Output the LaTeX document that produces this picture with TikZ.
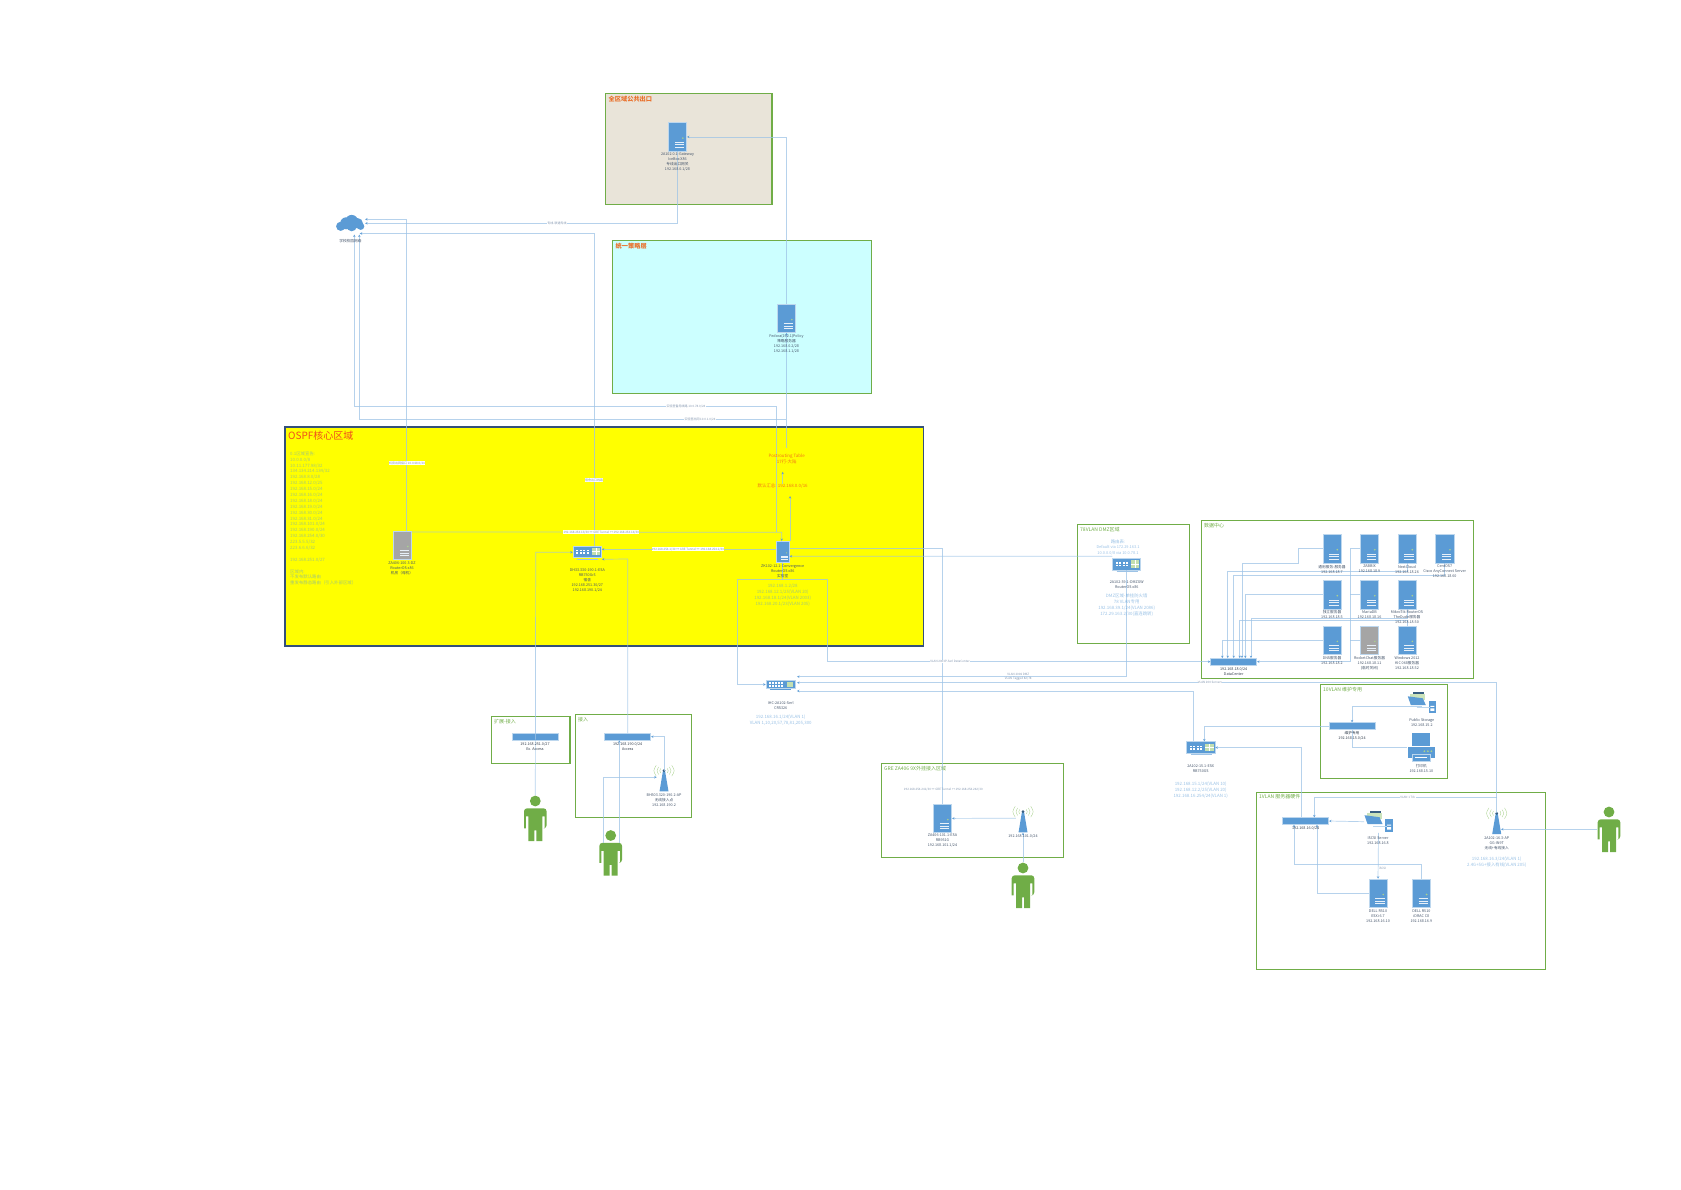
\documentclass[tikz,border=0pt]{standalone}
\usepackage{fontspec}
\setmainfont{Noto Sans CJK SC}
\usetikzlibrary{arrows.meta}
\definecolor{blu}{HTML}{5B9BD5}
\definecolor{pale}{HTML}{BDD7EE}
\definecolor{lkc}{HTML}{9DC3E6}
\definecolor{grn}{HTML}{70AD47}
\definecolor{lbc}{HTML}{44546A}
\definecolor{elc}{HTML}{8497B0}
\definecolor{ttl}{HTML}{E9702A}
\definecolor{ospfbg}{HTML}{FFFF00}
\definecolor{ospfln}{HTML}{34507A}
\definecolor{gwbg}{HTML}{E9E4D9}
\definecolor{polbg}{HTML}{CCFFFF}
\definecolor{wavec}{HTML}{A9D18E}
\definecolor{srvgr}{HTML}{A5A5A5}
\tikzstyle{srv}=[rectangle,fill=blu,draw=pale,line width=.5pt,minimum width=18.4pt,minimum height=28.6pt,inner sep=0pt]
\tikzstyle{srvg}=[srv,fill=srvgr]
\tikzstyle{srvs}=[srv,minimum width=13.3pt,minimum height=21.4pt]
\tikzstyle{rtr}=[rectangle,fill=blu,draw=pale,line width=.5pt,minimum width=28.4pt,minimum height=11.6pt,inner sep=0pt]
\tikzstyle{crsw}=[rtr,minimum width=29pt,minimum height=7.6pt]
\tikzstyle{flat}=[rectangle,fill=blu,draw=pale,line width=.5pt,minimum width=46pt,minimum height=6.6pt,inner sep=0pt]
\tikzstyle{icon}=[rectangle,inner sep=0pt,minimum width=28.4pt,minimum height=22pt]
\tikzstyle{antn}=[rectangle,inner sep=0pt,minimum width=14pt,minimum height=28.4pt]
\tikzstyle{man}=[rectangle,inner sep=0pt,minimum width=23pt,minimum height=45.4pt]
\tikzstyle{zone}=[draw=grn,line width=1.1pt]
\tikzstyle{lk}=[draw=lkc,draw opacity=.75,line width=.7pt,>={Stealth[length=2.6pt,width=2.6pt,color=blu]}]
\tikzstyle{lab}=[inner sep=0pt,anchor=north,align=center,text=lbc,font=\fontsize{3.7}{5}\selectfont]
\tikzstyle{bluetxt}=[inner sep=0pt,anchor=north,align=center,text=blu,text opacity=.62,font=\fontsize{4.4}{6}\selectfont]
\tikzstyle{edge}=[inner sep=.4pt,fill=white,text=elc,font=\fontsize{3}{3.6}\selectfont]
\tikzstyle{ztitle}=[inner sep=0pt,anchor=west,text=grn,font=\fontsize{5}{6}\selectfont]
\tikzstyle{otitle}=[inner sep=0pt,anchor=west,text=ttl,font=\fontsize{6.2}{7}\selectfont\bfseries]
\begin{document}
\begin{tikzpicture}[x=1pt,y=-1pt]
\useasboundingbox (0,0) rectangle (1681,1189);
\draw[zone,fill=gwbg] (605.7,93.3) rectangle (772,204.7);
\draw[zone,fill=polbg] (612.9,240.7) rectangle (871.8,393.3);
\draw[fill=ospfbg,draw=ospfln,line width=1.4pt] (285,427) rectangle (923.5,646);
\draw[zone] (1077.3,524.7) rectangle (1189.3,643.3);
\draw[zone] (1201.7,520.7) rectangle (1473.3,678.3);
\draw[zone] (1320.7,684.3) rectangle (1447.3,778.3);
\draw[zone] (1256.7,792.7) rectangle (1545.3,969.3);
\draw[zone] (881.3,763.3) rectangle (1063.3,857.3);
\draw[zone] (491.3,716.7) rectangle (570,763.3);
\draw[zone] (575.7,714.3) rectangle (691.3,817.3);

\node[srv] (gw) at (677.5,136.9) {};
\node[srv] (pol) at (786.5,318.4) {};
\node[srvg] (zad) at (402.5,545.2) {};
\node[srvs] (core) at (782.7,552) {};
\node[srv] (tong) at (1332,548.5) {};
\node[srv] (zab) at (1369.5,548.5) {};
\node[srv] (next) at (1407,548.5) {};
\node[srv] (cent) at (1444.7,548.5) {};
\node[srv] (indep) at (1332,594.5) {};
\node[srv] (maria) at (1369.5,594.5) {};
\node[srv] (mikro) at (1407,594.5) {};
\node[srv] (dns) at (1332,640.2) {};
\node[srvg] (rock) at (1369.5,640.2) {};
\node[srv] (win) at (1407,640.2) {};
\node[srv] (gre) at (942.5,818.4) {};
\node[srv] (dela) at (1378,893.3) {};
\node[srv] (delb) at (1421.3,893.3) {};
\node[rtr] (cen) at (587.3,551.6) {};
\node[rtr] (dmz) at (1126.5,564.2) {};
\node[rtr] (esx) at (1200.8,747.5) {};
\node[crsw] (crs) at (780.5,684.5) {};
\node[flat] (ext) at (535.3,736.7) {};
\node[flat] (acc) at (627.7,736.7) {};
\node[flat] (dc) at (1233.7,661.7) {};
\node[flat] (srvsw) at (1305.7,821) {};
\node[flat] (mnt) at (1352,726) {};
\node[icon] (sto) at (1421.8,702.8) {};
\node[icon] (isc) at (1378.5,821.7) {};
\node[icon] (prn) at (1421.3,747.2) {};
\node[icon] (cloud) at (350.7,223.3) {};
\node[antn] (apb) at (664,777.2) {};
\node[antn] (apc) at (1023,818.2) {};
\node[antn] (apr) at (1496.7,819.8) {};
\node[man] (pa) at (535.3,818.3) {};
\node[man] (pb) at (610.7,852.8) {};
\node[man] (pc) at (1023,885.3) {};
\node[man] (pd) at (1609,829.3) {};

\foreach \n in {gw,pol,zad,tong,zab,next,cent,indep,maria,mikro,dns,rock,win,gre,dela,delb}{
\begin{scope}[shift={(\n.center)}]
\fill[wavec] (5.3,1.2) circle (.9);
\draw[white!85!blu,line width=.6pt] (-2.7,5.3)--(6.7,5.3) (-2.7,7.8)--(6.7,7.8) (-2.7,10.3)--(6.7,10.3);
\end{scope}
}
\begin{scope}[shift={(core.center)},scale=.72]
\fill[wavec] (5.3,1.2) circle (.9);
\draw[white!85!blu,line width=.6pt] (-2.7,5.3)--(6.7,5.3) (-2.7,7.8)--(6.7,7.8) (-2.7,10.3)--(6.7,10.3);
\end{scope}
\foreach \n in {cen,dmz,esx}{
\begin{scope}[shift={(\n.center)}]
\foreach \x in {-11,-7.5,-4,-.5}{\fill[white] (\x,-2) rectangle ++(2,1.5);\fill[white] (\x,.6) rectangle ++(2,1.5);}
\fill[wavec!70!white] (4.3,-4) rectangle (12.7,3.5);
\draw[white,line width=.4pt] (8.5,-4)--(8.5,3.5) (4.3,-.2)--(12.7,-.2);
\draw[lkc,line width=1pt] (-10,7.4)--(11,7.4);
\end{scope}
}
\begin{scope}[shift={(crs.center)}]
\foreach \x in {-12,-9,-6,-3,0}{\fill[white] (\x,-2.4) rectangle ++(2,1.6);\fill[white] (\x,.6) rectangle ++(2,1.6);}
\fill[wavec!70!white] (6,-2.8) rectangle (12,2.8);
\draw[blu,line width=.6pt] (-11,5.2)--(10,5.2);
\end{scope}
\foreach \n in {sto,isc}{
\begin{scope}[shift={(\n.center)}]
\fill[blu!60!black] (-9,-11) rectangle (2,-8.5);
\fill[wavec!60!white] (-12,-9) rectangle (3,-3);
\fill[blu] (-14,-6.5)--(1,-4.5)--(4,2.3)--(-11,2.3)--cycle;
\fill[blu] (6.7,-2.3) rectangle (14.2,10.4);
\fill[white] (8.5,3) rectangle (12.5,4) (8.5,5.5) rectangle (12.5,8);
\draw[pale,line width=.5pt] (-5.3,4.2)--(8,4.2);
\end{scope}
}
\begin{scope}[shift={(prn.center)}]
\fill[blu] (-9,-14.5) rectangle (9,-1);
\fill[blu] (-13.7,-.3) rectangle (13.7,10.3);
\foreach \x in {3,6.5,10}{\fill[wavec] (\x,4) circle (1);}
\draw[fill=blu,draw=pale,line width=.6pt] (-9.3,7) rectangle (9.3,14.5);
\draw[white,line width=.5pt] (-6,10.5)--(6,10.5);
\end{scope}
\begin{scope}[shift={(cloud.center)}]
\fill[blu] (-10,3) circle (4.6) (-4.5,0) circle (6) (1,-2) circle (6.4) (7,0) circle (5.2) (10,3) circle (3.6) (1,3) circle (5);
\end{scope}
\foreach \n in {apb,apc,apr}{
\begin{scope}[shift={(\n.center)}]
\foreach \r in {4,6.5,9.5}{
\draw[wavec,line width=.35pt] ({\r*.82},{-6.5-\r*.57}) .. controls ({\r*1.15},-6.5) .. ({\r*.82},{-6.5+\r*.57});
\draw[wavec,line width=.35pt] ({-\r*.82},{-6.5-\r*.57}) .. controls ({-\r*1.15},-6.5) .. ({-\r*.82},{-6.5+\r*.57});
}
\fill[blu] (-1,-6.5)--(1,-6.5)--(4.5,14.2)--(-4.5,14.2)--cycle;
\fill[blu!60!black] (0,-6.5) circle (1.5);
\end{scope}
}
\foreach \n in {pa,pb,pc,pd}{
\begin{scope}[shift={(\n.center)}]
\fill[grn] (0,-17.3) circle (5.4);
\fill[grn,rounded corners=3pt] (-11.3,10)--(-11.3,-10)--(11.3,-10)--(11.3,10)[sharp corners]--(9.4,10)--(9.4,-2)--(7,-2)--(7,22.7)--(1,22.7)--(1,12)--(-1,12)--(-1,22.7)--(-7,22.7)--(-7,-2)--(-9.4,-2)--(-9.4,10)--cycle;
\end{scope}
}

\draw[lk,->] (gw.south) |- (cloud.east);
\draw[lk,<-] ([yshift=4pt]cloud.east) -| ([xshift=4.2pt]zad.north);
\draw[lk,<-] ([xshift=-5.4pt,yshift=1pt]cloud.south east) -| ([xshift=6.7pt]cen.north);
\draw[lk,<-] ([xshift=3.6pt]cloud.south) -- (354.3,406.7) -- (776.4,406.7) -- (776.4,532.3);
\draw[lk,<-] ([xshift=8.6pt]cloud.south) -- (359.3,419.3) -- (786.4,419.3);
\draw[lk,<-] (gw.east) -- (786.5,136.9) -- (pol.north);
\draw[lk,<-] (pol.south) -- (786.5,447.7);
\draw[lk,<-] (782.7,471.7) -- (782.7,484);
\draw[lk,<-] (790,496) -- ([xshift=7.3pt]core.north);
\draw[lk,->] ([yshift=-1.3pt]zad.north east) -- (781.7,532.3) -- ([xshift=-1pt]core.north);
\draw[lk,<-] ([yshift=2.3pt]cen.east) -- ([yshift=2.7pt]core.west);
\draw[lk,->] (pa.north) -- (535.7,552.3) -- ([yshift=-.7pt]cen.west);
\draw[lk,<-] ([xshift=.1pt,yshift=-1.6pt]cen.south east) -- (627.7,559) -- (acc.north);
\draw[lk,->] ([yshift=6.5pt]apb.center) |- (acc.east);
\draw[lk,->] ([xshift=-7.4pt,yshift=-13pt]pb.north) -- (603.3,777.2) -- (apb.west);
\draw[lk,->] ([xshift=8.6pt,yshift=-13pt]pb.north) -- ([xshift=-8.4pt]acc.south);
\draw[lk,->] (core.south) -- (782.7,579.3) -- (737.3,579.3) |- (crs.west);
\draw[lk,->] (core.south) -- (782.7,579.3) -- (827.3,579.3) -- (827.3,661.7) -- (dc.west);
\draw[lk] ([yshift=3.7pt]core.east) -| (gre.north);
\draw[lk,<-] ([yshift=-4.3pt]core.east) -- (1112,556.3) -- ([yshift=2pt]dmz.north west);
\draw[lk,->] (apc.west) -- (gre.east);
\draw[lk,->] (pc.north) -- (apc.south);
\draw[lk,->] (dmz.south) -- (1126.5,676.7) -- ([xshift=1.7pt,yshift=7.8pt]crs.east);
\draw[lk,->] ([yshift=6.5pt]apr.center) -- (1496.7,682.7) -- ([xshift=1.7pt,yshift=1.8pt]crs.east);
\draw[lk,->] (1496.7,797.3) -- (1314.3,797.3) -- ([xshift=8.6pt]srvsw.north);
\draw[lk,->] ([xshift=-7.5pt]esx.north) -- (1193.3,691) -- ([xshift=1.7pt,yshift=-6.5pt]crs.east);
\draw[lk,<-] (esx.east) -- (1301.7,747.5) -- ([xshift=-4pt]srvsw.north);
\draw[lk,->] (mnt.west) -| ([xshift=3.5pt]esx.north);
\draw[lk,<-] (mnt.north) |- ([yshift=-3.9pt]sto.center);
\draw[lk] (mnt.south) |- (prn.west);
\draw[lk,->] (isc.west) -- (srvsw.east);
\draw[lk,->] (isc.south) -- (dela.north);
\draw[lk,<-] ([xshift=-11.7pt]srvsw.south) |- (1421.3,864.3) -- (delb.north);
\draw[lk,<-] ([xshift=11.3pt]srvsw.south) |- (dela.west);
\draw[lk,->] (pd.west |- 0,829.3) -- ([xshift=-3pt,yshift=-9.5pt]apr.east);
\draw[lk,->] (dns.west) -| ([xshift=-11.4pt]dc.north);
\draw[lk,->] (next.south) |- (1227.7,571) -- ([xshift=-6pt]dc.north);
\draw[lk,->] (cent.south) |- (1233.7,575.3) -- (dc.north);
\draw[lk,->] (win.north) |- (1239.7,620.7) -- ([xshift=6pt]dc.north);
\draw[lk,->] (tong.west) -- (1298,548.5) -- (1298,563.3) -- (1242,563.3) -- ([xshift=8.3pt]dc.north);
\draw[lk,->] (indep.west) -| ([xshift=11.6pt]dc.north);
\draw[lk,->] (mikro.south) |- (1251,618.3) -- ([xshift=17.3pt]dc.north);
\draw[lk,->] (zab.west) -- (1350,548.5) -- (1350,661.7) -- (dc.east);
\draw[lk] (maria.west) -- (1350,594.5);
\draw[lk] (rock.west) -- (1350,640.2);

\node[otitle] (gwt) at (608.5,99) {全区域公共出口};
\node[otitle] (polt) at (615.5,246.5) {统一策略层};
\node[inner sep=0pt,anchor=west,text=ttl!70!red,font=\fontsize{10}{12}\selectfont] (ospft) at (288,435.5) {OSPF核心区域};
\node[ztitle] (dmzt) at (1080,529.7) {78VLAN DMZ区域};
\node[ztitle] (dct) at (1204,525.7) {数据中心};
\node[ztitle] (mntt) at (1323,689.5) {10VLAN 维护专用};
\node[ztitle] (svt) at (1259,797) {1VLAN 服务器硬件};
\node[ztitle] (gret) at (884,768.5) {GRE ZA406 9X外挂接入区域};
\node[ztitle] (extt) at (494,722) {扩展-接入};
\node[ztitle] (acct) at (578,719.7) {接入};

\node[bluetxt,anchor=north west,align=left,text opacity=.55,font=\fontsize{4.4}{5.89}\selectfont] (area) at (290,451.3) {0.1区域宣告:\\10.0.0.0/8\\10.11.177.98/32\\134.134.214.134/32\\192.168.8.0/28\\192.168.12.0/25\\192.168.15.0/24\\192.168.16.0/24\\192.168.18.0/24\\192.168.19.0/24\\192.168.30.0/24\\192.168.31.0/24\\192.168.101.0/24\\192.168.190.0/24\\192.168.254.0/30\\223.5.5.5/32\\223.6.6.6/32\\[5.9pt]192.168.251.0/27\\[5.9pt]区域内:\\不发布默认路由\\重发布静态路由（引入外部区域）};

\node[lab] (gwl) at (677.5,153) {2A102.0.1-Gateway\\IceBox X86\\专线出口网关\\192.168.0.1/28};
\node[lab] (poll) at (786.5,334.4) {Fedora(192.1)Policy\\策略服务器\\192.168.0.2/28\\192.168.1.1/28};
\node[lab] (cloudl) at (350.4,239) {学校校园网络};
\node[lab] (zadl) at (402,561.4) {ZA406-100.3-DZ\\RouterOS x86\\机房（母机）};
\node[lab] (cenl) at (587.3,568.4) {DH33.330-190.1-ESA\\RB750Gr3\\宿舍\\192.168.251.30/27\\192.168.190.1/24};
\node[lab] (corel) at (782.7,564.4) {ZK102-12.1-Convergence\\RouterOS x86\\实验室};
\node[bluetxt,text opacity=.55] (corei) at (782.7,583.4) {192.168.1.2/28\\192.168.12.1/25(VLAN 20)\\192.168.18.1/24(VLAN 2003)\\192.168.20.1/23(VLAN 205)};
\node[inner sep=0pt,align=center,text=ttl!60!orange,font=\fontsize{4.4}{6}\selectfont] (post) at (786.7,459) {Postrouting Table\\17行-大陆};
\node[inner sep=0pt,text=ttl!60!orange,font=\fontsize{4.4}{6}\selectfont] (sumr) at (782.7,486) {默认汇总: 192.168.0.0/16};
\node[lab] (crsl) at (780.7,701.4) {IHC-2A102-Serl\\CRS326};
\node[bluetxt] (crsi) at (780.7,715) {192.168.16.1/24(VLAN 1)\\VLAN 1,10,20,57,78,81,205,300};
\node[lab,text=lbc!70!black] (extl) at (535,742) {192.168.251.0/27\\Ex. Access};
\node[lab,text=lbc!70!black] (accl) at (627.7,742) {192.168.190.0/24\\Access};
\node[lab] (apbl) at (664,794) {BH503.320-190.2-AP\\无线接入点\\192.168.190.2};
\node[lab] (grel) at (942.5,834) {ZA406-101.1-ESA\\RB951G\\192.168.101.1/24};
\node[lab] (apcl) at (1023,834) {192.168.101.0/24};
\node[edge,fill=none] (grek) at (943.3,789.3) {192.168.254.241/30 ↔ GRE Tunnel ↔ 192.168.254.242/30};
\node[bluetxt,anchor=north,align=left] (dmzr) at (1118,539.4) {路由表:};
\node[bluetxt,font=\fontsize{3.9}{5.7}\selectfont] (dmzv) at (1118,545.5) {Default via 172.29.163.1\\10.0.0.0/8 via 10.0.78.1};
\node[lab] (dmzl) at (1126.7,580.7) {2A102-39.1-DMZGW\\RouterOS x86};
\node[bluetxt] (dmzi) at (1126.7,593.3) {DMZ区域-单挂防火墙\\78 VLAN专用\\192.168.39.1/24(VLAN 2086)\\172.29.163.2/30(直连跳转)};
\node[lab] at (1332,565) (tongl) {通用服务-服务器\\192.168.18.7};
\node[lab] at (1369.5,565) (zabl) {ZABBIX\\192.168.18.9};
\node[lab] at (1407,565) (nextl) {NextCloud\\192.168.18.26};
\node[lab] at (1444.7,565) (centl) {CentOS7\\Cisco AnyConnect Server\\192.168.18.60};
\node[lab] at (1332,610.4) (indepl) {独立服务器\\192.168.18.5};
\node[lab] at (1369.5,610.4) (marial) {MariaDB\\192.168.18.16};
\node[lab] at (1407,610.4) (mikrol) {MikroTik RouterOS\\TheDude服务器\\192.168.18.50};
\node[lab] at (1332,656.4) (dnsl) {DNS服务器\\192.168.18.2};
\node[lab] at (1369.5,656.4) (rockl) {RocketChat服务器\\192.168.18.11\\(临时关闭)};
\node[lab] at (1407,656.4) (winl) {Windows 2012\\KIC 068服务器\\192.168.18.52};
\node[lab,text=lbc!70!black] (dcl) at (1233.7,667) {192.168.18.0/24\\DataCenter};
\node[lab,text=lbc!70!black] (mntl) at (1352,731) {维护专用\\192.168.15.0/24};
\node[lab] (stol) at (1421.8,718.8) {Public Storage\\192.168.15.2};
\node[lab] (prnl) at (1421.3,763.8) {打印机\\192.168.15.10};
\node[lab] (esxl) at (1200.7,764.8) {2A102-15.1-ESX\\RB750GS};
\node[bluetxt] (esxi) at (1200.7,781.7) {192.168.15.1/24(VLAN 10)\\192.168.12.2/25(VLAN 20)\\192.168.16.254/24(VLAN 1)};
\node[lab,text=lbc!70!black] (svl) at (1305.7,826) {192.168.16.0/24};
\node[lab] (iscl) at (1378,837) {ISCSI Server\\192.168.16.8};
\node[lab] (delal) at (1378,909.4) {DELL R510\\ESXi 6.7\\192.168.16.10};
\node[lab] (delbl) at (1421.3,909.4) {DELL R510\\iDRAC C8\\192.168.16.9};
\node[lab] (aprl) at (1496.7,836.7) {2A102-16.3-AP\\GG-IN9T\\无线+有线接入};
\node[bluetxt] (apri) at (1496.7,856.7) {192.168.16.3/24(VLAN 1)\\2.4G+5G+接入有线(VLAN 205)};

\node[edge] (e1) at (557,223.3) {专线-联通专线};
\node[edge] (e2) at (407,463.3) {机房出网接口 10.0.68.0/24};
\node[edge] (e3) at (594,480) {宿舍出口线路};
\node[edge] (e4) at (686,406.7) {实验室备用线路 10.0.78.0/24};
\node[edge] (e5) at (700,419.3) {实验室出网 10.0.1.0/24};
\node[edge] (e6) at (601.3,532.3) {192.168.254.13/30 ↔ GRE Tunnel ↔ 192.168.254.14/30};
\node[edge] (e7) at (688,549.3) {192.168.254.1/30 ↔ GRE Tunnel ↔ 192.168.254.2/30};
\node[edge] (e8) at (950,661.5) {VLAN 2003P-Serl DataCenter};
\node[edge] (e9) at (1018.3,674.6) {VLAN 2006 DMZ};
\node[edge] (e10) at (1018.3,678.8) {VLAN Tagged 82/78};
\node[edge] (e11) at (1210,682.5) {VLAN 200 Servers};
\node[edge] (e12) at (1407.7,797.3) {VLAN 1 Trk};
\node[edge] (e13) at (1382.5,868) {iSCSI};
\end{tikzpicture}
\end{document}
